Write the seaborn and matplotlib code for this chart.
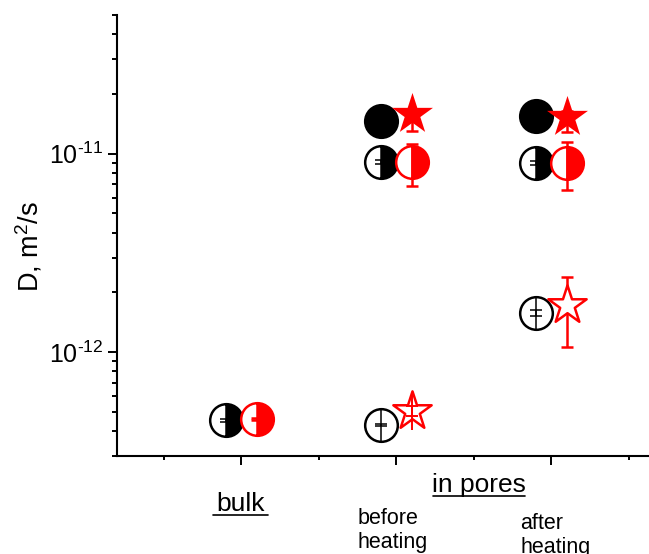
import numpy as np
import pandas as pd
import matplotlib
matplotlib.use("Agg")
import matplotlib.pyplot as plt
import matplotlib.ticker as mticker
import matplotlib.transforms as mtransforms
from matplotlib.lines import Line2D
import seaborn as sns

# ---------------- data ----------------
categories = ["bulk", "before heating", "after heating"]
cat_pos = [1, 2, 3]
offset = 0.1

# half-filled circles (all three categories)
half_black = [4.55e-13, 9.05e-12, 8.95e-12]
half_black_err = [0.08e-13, 0.2e-12, 0.2e-12]
half_red = [4.6e-13, 9.05e-12, 9.0e-12]
half_red_err = [0.05e-13, 2.2e-12, 2.45e-12]

# filled markers (in pores only)
pore_pos = [2, 3]
filled_black = [1.47e-11, 1.55e-11]
filled_red = [1.59e-11, 1.54e-11]
filled_red_err_low = [0.29e-11, 0.25e-11]
filled_red_err_high = [0.1e-11, 0.1e-11]

# open markers (in pores only)
open_black = [4.3e-13, 1.58e-12]
open_black_err = [0.04e-13, 0.05e-12]
open_red = [5.08e-13, 1.72e-12]
open_red_err = [0.3e-13, 0.66e-12]

# ---------------- style ----------------
sns.set_style("ticks")
plt.rcParams["font.family"] = ["Liberation Sans", "DejaVu Sans"]
plt.rcParams["mathtext.fontset"] = "custom"
plt.rcParams["mathtext.rm"] = "Liberation Sans"
plt.rcParams["mathtext.it"] = "Liberation Sans:italic"
plt.rcParams["mathtext.default"] = "regular"
plt.rcParams["axes.unicode_minus"] = False
for k in ["text.color", "axes.labelcolor", "xtick.color", "ytick.color", "axes.edgecolor"]:
    plt.rcParams[k] = "black"

W, H = 649, 554
fig = plt.figure(figsize=(W / 100, H / 100), dpi=100)
ax = fig.add_axes([117 / W, 1 - 456 / H, 558 / W, 441 / H])

xb = [p - offset for p in cat_pos]
xr = [p + offset for p in cat_pos]
xpb = [p - offset for p in pore_pos]
xpr = [p + offset for p in pore_pos]

CIRC = 23.5
STAR = 31
EW = 1.8

# filled black circles
sns.scatterplot(x=xpb, y=filled_black, marker="o", s=(CIRC + EW) ** 2,
                color="black", edgecolor="black", linewidth=0, ax=ax, zorder=3)
# open black circles
sns.scatterplot(x=xpb, y=open_black, marker="o", s=CIRC ** 2,
                color="white", edgecolor="black", linewidth=EW, ax=ax, zorder=3)
ax.plot(xpb, open_black, linestyle="none", marker="|", ms=CIRC, mew=1.1,
        color="black", zorder=3.2)
ax.errorbar(xpb, open_black, yerr=open_black_err, fmt="none", ecolor="black",
            elinewidth=1.1, capsize=4, capthick=1.1, zorder=3.3)

# half-filled black circles
ax.plot(xb, half_black, linestyle="none", marker="o", ms=CIRC, fillstyle="right",
        markerfacecolor="black", markerfacecoloralt="white",
        markeredgecolor="black", mew=EW, zorder=3)
ax.errorbar(xb, half_black, yerr=half_black_err, fmt="none", ecolor="black",
            elinewidth=1.1, capsize=4, capthick=1.1, zorder=3.3)

# red errorbars for stars
ax.errorbar(xpr, filled_red, yerr=[filled_red_err_low, filled_red_err_high], fmt="none",
            ecolor="red", elinewidth=1.8, capsize=4.5, capthick=1.8, zorder=3.5)
ax.errorbar(xpr[1:], open_red[1:], yerr=open_red_err[1:], fmt="none", ecolor="red",
            elinewidth=1.8, capsize=4.5, capthick=1.8, zorder=3.5)
ax.errorbar(xpr[:1], open_red[:1], yerr=open_red_err[:1], fmt="none", ecolor="red",
            elinewidth=1.4, capsize=4.5, capthick=1.4, zorder=4.5)
ax.plot(xpr[:1], open_red[:1], linestyle="none", marker="|", ms=STAR * 0.9, mew=1.4,
        color="red", zorder=4.4)

# filled red stars
sns.scatterplot(x=xpr, y=filled_red, marker="*", s=STAR ** 2,
                color="red", edgecolor="red", linewidth=0, ax=ax, zorder=4)
# open red stars
sns.scatterplot(x=xpr, y=open_red, marker="*", s=(STAR - 2) ** 2,
                color="white", edgecolor="red", linewidth=EW, ax=ax, zorder=4)

# half-filled red circles
ax.plot(xr, half_red, linestyle="none", marker="o", ms=CIRC, fillstyle="right",
        markerfacecolor="red", markerfacecoloralt="white",
        markeredgecolor="red", mew=EW, zorder=4)
ax.errorbar(xr, half_red, yerr=half_red_err, fmt="none", ecolor="red",
            elinewidth=1.8, capsize=4.5, capthick=1.8, zorder=4.5)

# ---------------- axes ----------------
ax.set_yscale("log")
ax.set_ylim(3e-13, 5e-11)
ax.set_xlim(0.2, 3.8)
ax.xaxis.set_major_locator(mticker.FixedLocator(cat_pos))
ax.xaxis.set_minor_locator(mticker.FixedLocator([0.5, 1.5, 2.5, 3.5]))
ax.xaxis.set_major_formatter(mticker.NullFormatter())
ax.yaxis.set_major_locator(mticker.LogLocator(base=10, numticks=10))
ax.yaxis.set_minor_locator(mticker.LogLocator(base=10, subs=np.arange(2, 10), numticks=10))
ax.yaxis.set_minor_formatter(mticker.NullFormatter())


def log_fmt(v, pos):
    e = int(round(np.log10(v)))
    return r"$10^{\text{%d}}$" % e


ax.yaxis.set_major_formatter(mticker.FuncFormatter(log_fmt))

for side in ["top", "right"]:
    ax.spines[side].set_visible(False)
for side in ["left", "bottom"]:
    ax.spines[side].set_linewidth(1.5)
    ax.spines[side].set_color("black")

ax.tick_params(axis="both", which="major", direction="out", length=6.5, width=1.4,
               color="black", labelsize=18, pad=3, labelcolor="black")
ax.tick_params(axis="both", which="minor", direction="out", length=3.5, width=1.4,
               color="black")
ax.tick_params(axis="x", which="minor", length=3)

ax.set_ylabel("D, m$^{2}$/s", fontsize=19.5, color="black")
ax.yaxis.set_label_coords(-0.13, 0.474)
ax.set_xlabel("")

# ---------------- category labels ----------------
tr = mtransforms.blended_transform_factory(ax.transData, fig.transFigure)


def fy(px):
    return 1 - px / H


ax.text(cat_pos[0], fy(511), categories[0], transform=tr, ha="center",
        va="baseline", fontsize=19)
ax.text(2.535, fy(492), "in pores", transform=tr, ha="center",
        va="baseline", fontsize=19)
ax.text(cat_pos[1] - 0.02, fy(508), categories[1].replace(" ", "\n"), transform=tr,
        ha="center", va="top", fontsize=15.5, multialignment="left", linespacing=1.2)
ax.text(cat_pos[2] + 0.03, fy(513), categories[2].replace(" ", "\n"), transform=tr,
        ha="center", va="top", fontsize=15.5, multialignment="left", linespacing=1.2)

fig.add_artist(Line2D([213 / W, 268 / W], [fy(515), fy(515)], color="black", lw=1.2))
fig.add_artist(Line2D([433 / W, 525 / W], [fy(495.5), fy(495.5)], color="black", lw=1.2))

fig.savefig("out.png", dpi=100, facecolor="white")
